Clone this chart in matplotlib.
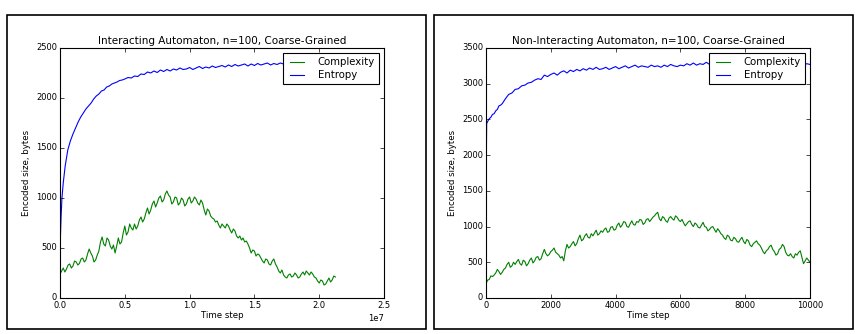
import numpy as np
import matplotlib
matplotlib.use("Agg")
import matplotlib.pyplot as plt
from matplotlib.patches import Rectangle

# ---- left panel: interacting automaton (time in units of 1e7 steps) ----
left_cx_end = 2.125e7
left_complexity = [240, 270, 300, 260, 290, 330, 340, 300, 320, 370,
                   360, 330, 345, 390, 400, 360, 380, 440, 490, 450,
                   420, 360, 380, 430, 470, 560, 610, 540, 520, 600,
                   580, 520, 490, 530, 450, 520, 600, 540, 560, 650,
                   720, 630, 660, 740, 700, 680, 740, 690, 720, 780,
                   810, 760, 790, 850, 900, 840, 880, 940, 970, 910,
                   950, 1000, 1020, 960, 980, 1040, 1070, 1030, 1010, 940,
                   960, 1010, 1000, 930, 950, 1000, 980, 920, 940, 990,
                   1010, 950, 970, 1010, 990, 950, 930, 980, 950, 880,
                   830, 890, 870, 820, 800, 790, 760, 770, 730, 700,
                   740, 720, 700, 740, 720, 680, 650, 690, 670, 620,
                   600, 620, 580, 600, 560, 570, 540, 500, 450, 480,
                   470, 420, 440, 430, 400, 370, 350, 390, 380, 340,
                   330, 370, 390, 340, 310, 270, 250, 280, 230, 210,
                   200, 230, 240, 210, 220, 250, 230, 200, 210, 240,
                   260, 230, 270, 250, 230, 260, 240, 210, 200, 170,
                   150, 180, 170, 130, 140, 170, 200, 160, 180, 220, 210]

left_ent_early_t = [0, 0.003, 0.008, 0.015, 0.025, 0.04, 0.06, 0.08, 0.10, 0.12,
                    0.14, 0.16, 0.18, 0.20, 0.22, 0.24, 0.26, 0.28, 0.30, 0.32,
                    0.34, 0.36, 0.38, 0.40, 0.42, 0.44, 0.46, 0.48]
left_ent_early = [250, 600, 800, 1000, 1150, 1320, 1480, 1570, 1640, 1700,
                  1760, 1810, 1850, 1890, 1920, 1950, 1990, 2020, 2040, 2070,
                  2080, 2110, 2120, 2140, 2150, 2160, 2175, 2180]
left_ent_tail_step = 0.025   # from 0.5e7 onwards
left_ent_tail = [2190, 2205, 2200, 2220, 2215, 2240, 2235, 2260, 2250, 2270,
                 2255, 2280, 2265, 2285, 2270, 2290, 2280, 2300, 2285, 2290,
                 2305, 2285, 2300, 2315, 2295, 2310, 2300, 2320, 2305, 2315,
                 2325, 2310, 2330, 2315, 2335, 2320, 2330, 2340, 2320, 2340,
                 2325, 2345, 2330, 2340, 2350, 2330, 2345, 2335, 2350, 2340,
                 2345, 2335, 2350, 2340, 2345, 2335, 2350, 2340, 2345, 2335,
                 2350, 2340, 2345, 2335, 2345, 2340]

# ---- right panel: non-interacting automaton ----
right_cx_end = 10000
right_complexity = [200, 250, 260, 310, 300, 320, 350, 400, 370, 330,
                    360, 400, 420, 470, 500, 430, 450, 500, 470, 510,
                    540, 480, 460, 530, 510, 450, 480, 530, 560, 490,
                    520, 570, 580, 530, 550, 620, 680, 620, 590, 610,
                    650, 670, 700, 640, 620, 600, 560, 580, 520, 660,
                    750, 700, 720, 760, 790, 730, 760, 830, 880, 800,
                    820, 870, 900, 850, 840, 900, 870, 910, 950, 880,
                    900, 940, 920, 960, 980, 920, 930, 990, 1000, 950,
                    960, 1020, 1050, 990, 1020, 1070, 1060, 1000, 990, 1040,
                    1080, 1030, 1020, 1070, 1060, 1100, 1090, 1030, 1050, 1100,
                    1110, 1070, 1100, 1130, 1150, 1180, 1200, 1110, 1080, 1140,
                    1120, 1080, 1060, 1120, 1140, 1110, 1090, 1150, 1130, 1090,
                    1070, 1100, 1050, 1010, 1040, 1070, 1080, 1030, 1000, 1050,
                    1030, 990, 980, 1020, 1060, 1000, 990, 940, 960, 990,
                    1000, 960, 920, 970, 940, 900, 880, 840, 820, 880,
                    860, 810, 800, 850, 830, 790, 780, 820, 850, 790,
                    760, 820, 800, 740, 720, 760, 780, 800, 760, 740,
                    700, 650, 620, 660, 680, 720, 740, 680, 650, 600,
                    620, 680, 700, 750, 720, 640, 600, 590, 620, 580,
                    560, 620, 600, 640, 660, 570, 480, 520, 560, 530, 500]

right_ent_early_t = [0, 20, 50, 100, 150, 200, 250, 300, 350, 400,
                     450, 500, 600, 700, 800, 900, 1000, 1100, 1200, 1300,
                     1400, 1500, 1600, 1700, 1800, 1900]
right_ent_early = [1450, 2440, 2470, 2510, 2530, 2570, 2580, 2620, 2640, 2690,
                   2700, 2720, 2790, 2850, 2870, 2920, 2930, 2970, 2980, 3010,
                   3020, 3050, 3070, 3060, 3120, 3100]
right_ent_tail_step = 100    # from t=2000 onwards
right_ent_tail = [3130, 3150, 3120, 3160, 3180, 3150, 3190, 3170, 3200, 3180,
                  3210, 3190, 3220, 3200, 3230, 3200, 3210, 3230, 3200, 3220,
                  3240, 3210, 3230, 3250, 3220, 3240, 3260, 3230, 3250, 3240,
                  3230, 3260, 3240, 3250, 3230, 3260, 3240, 3270, 3250, 3240,
                  3260, 3250, 3280, 3260, 3290, 3260, 3280, 3270, 3300, 3270,
                  3290, 3280, 3270, 3290, 3280, 3300, 3270, 3290, 3280, 3270,
                  3290, 3280, 3300, 3270, 3290, 3280, 3270, 3290, 3280, 3300,
                  3280, 3270, 3290, 3280, 3270, 3290, 3280, 3270, 3260, 3280,
                  3270]

plt.style.use('classic')
fig = plt.figure(figsize=(8.6, 3.34), dpi=100, facecolor='white')

# frames around each panel
for x0, x1 in [(7, 426), (434, 853)]:
    fig.patches.append(Rectangle((x0 / 860, 1 - 329 / 334), (x1 - x0) / 860, (329 - 15) / 334,
                                 transform=fig.transFigure, fill=False,
                                 edgecolor='black', lw=1.2))

ax1 = fig.add_axes([60 / 860, 1 - 298 / 334, 324 / 860, 250 / 334])
ax2 = fig.add_axes([486 / 860, 1 - 298 / 334, 324 / 860, 250 / 334])

t1 = np.linspace(0, left_cx_end, len(left_complexity))
t1e = np.concatenate([left_ent_early_t,
                      0.5 + np.arange(len(left_ent_tail)) * left_ent_tail_step]) * 1e7
ax1.plot(t1, left_complexity, color='g', lw=0.8, label='Complexity')
ax1.plot(t1e, left_ent_early + left_ent_tail, color='b', lw=0.8, label='Entropy')
ax1.set_xlim(0, 2.5e7)
ax1.set_ylim(0, 2500)
ax1.set_title('Interacting Automaton, n=100, Coarse-Grained', fontsize=7.5, pad=3)

t2 = np.linspace(0, right_cx_end, len(right_complexity))
t2e = np.concatenate([right_ent_early_t,
                      2000 + np.arange(len(right_ent_tail)) * right_ent_tail_step])
ax2.plot(t2, right_complexity, color='g', lw=0.8, label='Complexity')
ax2.plot(t2e, right_ent_early + right_ent_tail, color='b', lw=0.8, label='Entropy')
ax2.set_xlim(0, 10000)
ax2.set_ylim(0, 3500)
ax2.set_title('Non-Interacting Automaton, n=100, Coarse-Grained', fontsize=7.5, pad=3)

for ax in (ax1, ax2):
    ax.set_facecolor('white')
    ax.set_xlabel('Time step', fontsize=6.2, labelpad=1)
    ax.set_ylabel('Encoded size, bytes', fontsize=6.2, labelpad=4)
    ax.tick_params(labelsize=6, length=3, pad=2)
    ax.xaxis.get_offset_text().set_fontsize(6)
    for s in ax.spines.values():
        s.set_linewidth(0.8)
    leg = ax.legend(loc='upper right', fontsize=7.3, handlelength=2.0,
                    borderaxespad=0.5, labelspacing=0.3, handletextpad=1.0)
    leg.get_frame().set_linewidth(0.8)

fig.savefig('out.png', dpi=100, facecolor='white')
